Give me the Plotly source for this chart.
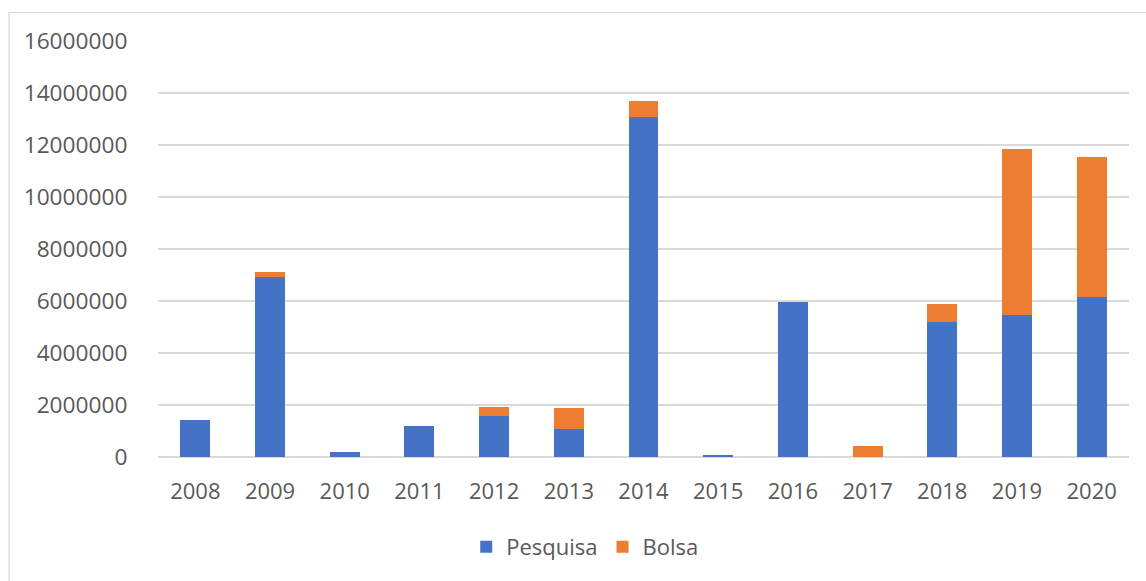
import plotly.graph_objects as go

years = ["2008", "2009", "2010", "2011", "2012", "2013", "2014",
         "2015", "2016", "2017", "2018", "2019", "2020"]
pesquisa = [1420000, 6920000, 210000, 1180000, 1580000, 1080000, 13070000,
            70000, 5960000, 0, 5210000, 5480000, 6150000]
bolsa = [0, 200000, 0, 0, 330000, 790000, 620000,
         0, 0, 440000, 690000, 6380000, 5380000]
y_ticks = [0, 2000000, 4000000, 6000000, 8000000, 10000000, 12000000, 14000000, 16000000]

FONT = "Open Sans"
TXT = "#595959"
GRID = "#d9d9d9"

fig = go.Figure()
fig.add_trace(go.Bar(name="Pesquisa", x=years, y=pesquisa,
                     marker=dict(color="#4472C4", line=dict(width=0))))
fig.add_trace(go.Bar(name="Bolsa", x=years, y=bolsa,
                     marker=dict(color="#ED7D31", line=dict(width=0))))

L, R, T, B = 157.6, 16.6, 41, 124
W, H = 1146, 581
pw = W - L - R
ph = H - T - B

def xp(px):
    return (px - L) / pw

def yp(py):
    return (H - B - py) / ph

fig.update_layout(
    barmode="stack",
    bargap=0.6,
    width=W, height=H,
    margin=dict(l=L, r=R, t=T, b=B, pad=0),
    paper_bgcolor="white",
    plot_bgcolor="white",
    font=dict(family=FONT, size=22, color=TXT),
    showlegend=True,
    legend=dict(orientation="h", x=0.44, xanchor="center", y=yp(547), yanchor="middle",
                font=dict(family=FONT, size=22, color=TXT), itemwidth=30,
                traceorder="normal"),
    xaxis=dict(showgrid=False, showline=False, zeroline=False,
               ticks="outside", ticklen=15, tickcolor="rgba(0,0,0,0)",
               tickfont=dict(family=FONT, size=22, color=TXT)),
    yaxis=dict(range=[0, 16000000], tickvals=y_ticks,
               ticktext=[str(v) for v in y_ticks],
               showgrid=True, gridcolor=GRID, gridwidth=1.5,
               zeroline=True, zerolinecolor=GRID, zerolinewidth=1.5,
               showline=False,
               ticks="outside", ticklen=25, tickcolor="rgba(0,0,0,0)",
               tickfont=dict(family=FONT, size=22.7, color=TXT)),
    shapes=[dict(type="rect", xref="paper", yref="paper",
                 x0=xp(8.5), x1=xp(1160), y0=yp(12.5), y1=yp(600),
                 line=dict(color=GRID, width=1.2), fillcolor="rgba(0,0,0,0)",
                 layer="below")],
)

fig.write_html("out.html", config={"displayModeBar": False},
               post_script="document.body.style.margin='0';document.body.style.overflow='hidden';")
